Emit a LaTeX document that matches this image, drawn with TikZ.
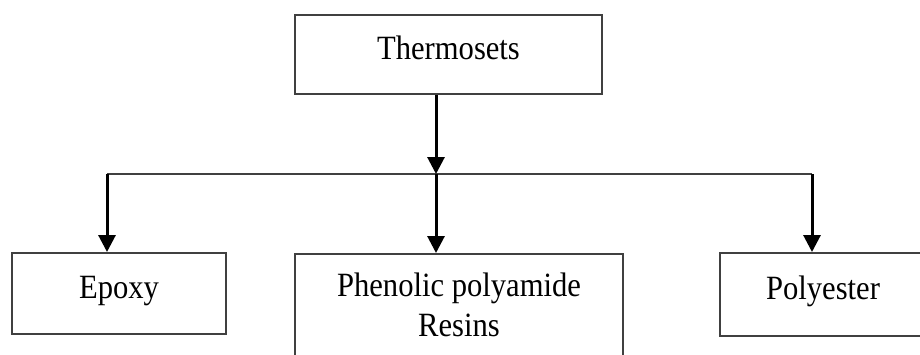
\documentclass[tikz,border=0pt]{standalone}
\usepackage{fontspec}
\setmainfont[FakeStretch=0.9]{Liberation Serif}
\usetikzlibrary{arrows.meta,positioning}

\begin{document}
\begin{tikzpicture}[
    x=0.5pt, y=-0.5pt,
    box/.style={draw=black!75, line width=1pt, inner sep=0pt, font=\fontsize{17}{20}\selectfont},
    single/.style={box, text height=12.5pt, text depth=8pt},
    link/.style={draw=black!75, line width=1pt},
    feed/.style={-{Triangle[width=8.5pt,length=8.5pt]}, line width=1.5pt}
]
\useasboundingbox (0,0) rectangle (920,354);
\clip (0,0) rectangle (920,354);

% Boxes
\node[single, minimum width=153.5pt, minimum height=39.5pt] (thermo) at (448.5,54.5) {Thermosets};
\node[single, minimum width=107pt, minimum height=40.5pt] (epoxy) at (119,293.5) {Epoxy};
\node[box, minimum width=164pt, anchor=north, align=center, inner ysep=9.5pt] (phenolic) at (459,253) {Phenolic polyamide\\Resins};
\node[single, minimum width=123pt, minimum height=41.5pt] (polyester) at (843,294.5) {Polyester\rule{20pt}{0pt}};

% Branch line
\coordinate (split) at (436,174);
\coordinate (left) at (107,174);
\coordinate (right) at (812,174);
\draw[link] (left) -- (right);

% Arrows
\draw[feed] (thermo.south -| split) -- (split);
\draw[feed] (split) -- (split |- phenolic.north);
\draw[feed] (left) -- (left |- epoxy.north);
\draw[feed] (right) -- (right |- polyester.north);

\end{tikzpicture}
\end{document}
